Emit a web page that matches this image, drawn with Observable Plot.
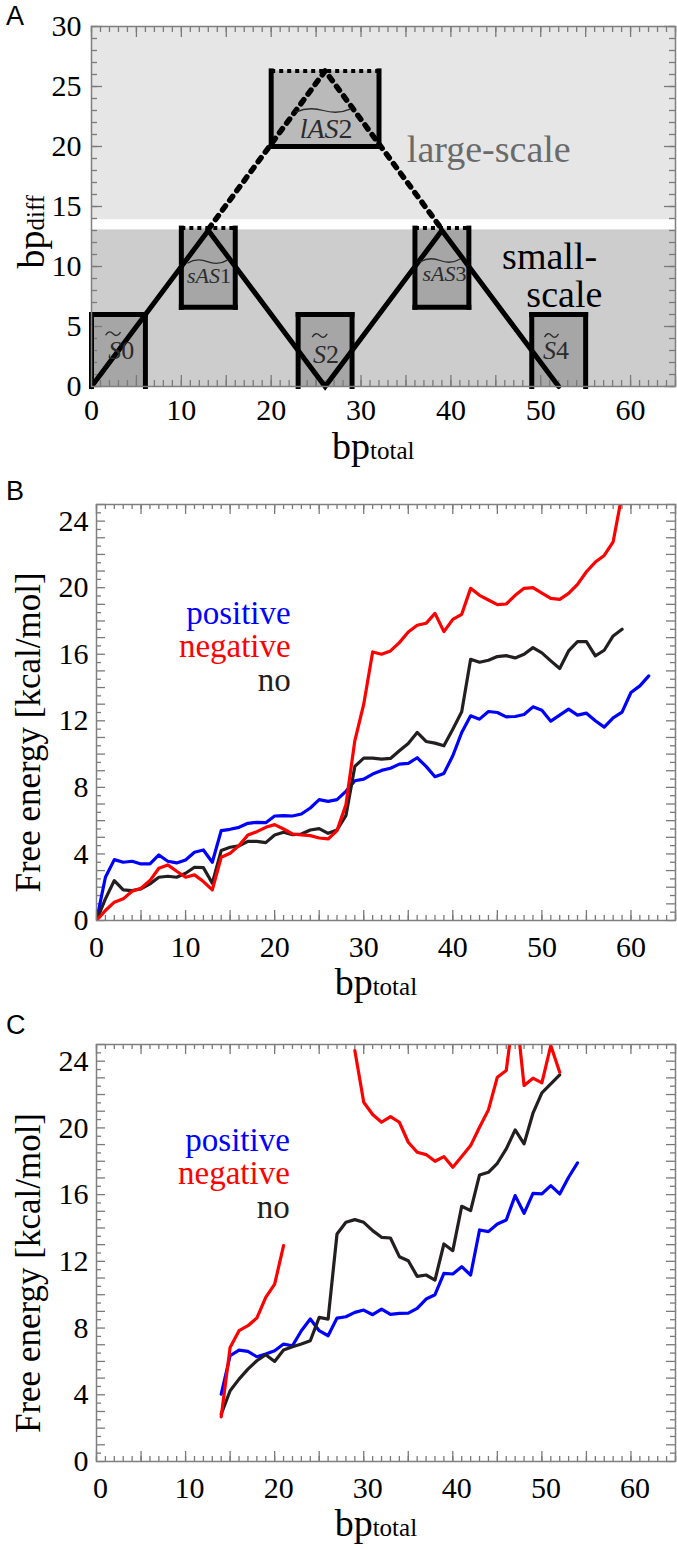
<!DOCTYPE html>
<html>
<head>
<meta charset="utf-8">
<script src="https://cdn.jsdelivr.net/npm/d3@7"></script>
<script src="https://cdn.jsdelivr.net/npm/@observablehq/plot@0.6"></script>
<style>
  body { margin: 0; background: #fff; }
  #wrap { position: relative; width: 677px; height: 1550px; overflow: hidden; background: #fff; }
  .panel { position: absolute; left: 0; }
  .letter { position: absolute; left: 6px; font-family: "Liberation Sans", Arial, sans-serif; font-size: 27px; line-height: 27px; color: #000; }
</style>
</head>
<body>
<div id="wrap">
  <div id="pA" class="panel" style="top:0px"></div>
  <div id="pB" class="panel" style="top:480px"></div>
  <div id="pC" class="panel" style="top:1020px"></div>
  <div class="letter" style="top:3px">A</div>
  <div class="letter" style="top:478px">B</div>
  <div class="letter" style="top:1012px">C</div>
</div>
<script>
// ---------------- Panel A data ----------------
const aXTicks = [0, 10, 20, 30, 40, 50, 60];
const aYTicks = [0, 5, 10, 15, 20, 25, 30];
const bandLowY = [0, 13.05];
const bandHighY = [13.9, 30];
const boxName = ["S0", "sAS1", "lAS2", "S2", "sAS3", "S4"];
const boxX1 = [0, 10, 20, 23, 36, 49];
const boxX2 = [6, 16, 32, 29, 42, 55];
const boxY1 = [0, 6.6, 20, 0, 6.6, 0];
const boxY2 = [6, 13.2, 26.3, 6, 13.2, 6];
const boxTopDotted = [false, true, true, false, true, false];
const zigX = [0, 13, 26, 39, 52];
const zigY = [0, 13, 0, 13, 0];
const dotX = [13, 26, 39];
const dotY = [13.1, 26.3, 13.1];
const boxLetters = ["S", "sAS", "lAS", "S", "sAS", "S"];
const boxLetterEm = [0.5, 1.5, 1.389, 0.5, 1.5, 0.5];   // italic advance widths of the letters, in em
const boxDigits = ["0", "1", "2", "2", "3", "4"];
const boxLabelSplit = [3.3, 14.3, 27.5, 26.1, 40.5, 51.7]; // where letters end and digit starts
const boxLabelY = [2.3, 8.6, 20.7, 2.0, 8.8, 2.3];
const boxLabelSize = [26, 22, 28, 26, 22, 26];
const tildeX = [2.4, 12.9, 25.8, 25.4, 38.8, 51.2];
const tildeY = [4.4, 10.4, 23.0, 4.25, 10.5, 4.25];
const tildeW = [15, 40, 55, 15, 40, 14];
const regionText = ["large-scale", "small-", "scale"];
const regionX = [35.1, 45.7, 48.4];
const regionY = [18.7, 9.8, 6.6];
const regionColor = ["#6a6a6a", "#000", "#000"];

// ---------------- Panels B, C data ----------------
const feXTicks = [0, 10, 20, 30, 40, 50, 60];
const feYTicks = [0, 4, 8, 12, 16, 20, 24];
const seriesName = ["positive", "negative", "no"];
const seriesColor = ["#0000ff", "#ff0000", "#231f20"];

const bBlueStart = 0;
const bBlue = [0, 2.6, 3.66, 3.5, 3.56, 3.4, 3.4, 3.94, 3.56, 3.46, 3.64, 4.1, 4.24, 3.5, 5.4, 5.48, 5.6, 5.84, 5.9, 5.88,
  6.28, 6.3, 6.28, 6.4, 6.76, 7.26, 7.16, 7.26, 7.76, 8.4, 8.5, 8.8, 9.02, 9.15, 9.4, 9.44, 9.78, 9.26, 8.64, 8.84,
  9.9, 11.3, 12.3, 12.1, 12.56, 12.5, 12.24, 12.26, 12.38, 12.84, 12.64, 11.98, 12.34, 12.7, 12.34, 12.46, 12.0, 11.62, 12.18, 12.52,
  13.7, 14.1, 14.7];
const bRedStart = 0;
const bRed = [0, 0.6, 1.1, 1.3, 1.76, 1.94, 2.4, 3.14, 3.34, 2.96, 2.6, 2.74, 2.34, 1.84, 3.8, 4.04, 4.5, 5.14, 5.34, 5.6,
  5.76, 5.5, 5.2, 5.14, 5.1, 4.96, 4.9, 5.4, 6.96, 10.8, 13.0, 16.14, 16.0, 16.2, 16.7, 17.34, 17.74, 17.86, 18.46, 17.36,
  18.1, 18.4, 19.96, 19.54, 19.26, 18.98, 19.02, 19.54, 19.96, 20.0, 19.68, 19.36, 19.3, 19.66, 20.2, 20.96, 21.54, 21.94, 22.76, 25.6];
const bBlackStart = 0;
const bBlack = [0, 1.3, 2.4, 1.84, 1.8, 1.9, 2.2, 2.6, 2.66, 2.6, 2.84, 3.2, 3.18, 2.24, 4.2, 4.4, 4.48, 4.76, 4.76, 4.68,
  5.14, 5.3, 5.16, 5.2, 5.44, 5.52, 5.24, 5.44, 6.3, 9.26, 9.76, 9.76, 9.7, 9.74, 10.2, 10.64, 11.3, 10.76, 10.66, 10.5,
  11.5, 12.54, 15.7, 15.52, 15.64, 15.86, 15.92, 15.78, 16.0, 16.4, 16.08, 15.6, 15.14, 16.2, 16.76, 16.76, 15.9, 16.24, 17.1, 17.5];

const cBlueStart = 14;
const cBlue = [4.04, 6.34, 6.68, 6.6, 6.28, 6.44, 6.64, 7.04, 6.94, 7.84, 8.54, 7.84, 7.54, 8.6, 8.68, 8.94, 9.08, 8.8, 9.14, 8.82,
  8.88, 8.9, 9.18, 9.74, 10.0, 11.28, 11.24, 11.68, 11.18, 13.88, 13.78, 14.24, 14.48, 15.94, 14.88, 16.08, 16.04, 16.54, 16.04, 17.04, 17.9];
const cRed1Start = 14;
const cRed1 = [2.68, 6.84, 7.84, 8.14, 8.6, 9.84, 10.64, 12.94];
const cRed2Start = 29;
const cRed2 = [24.64, 21.54, 20.8, 20.34, 20.68, 20.34, 19.14, 18.54, 18.4, 18.0, 18.28, 17.64, 18.28, 18.94, 20.04, 21.08,
  23.04, 23.44, 27.6, 22.54, 22.98, 22.7, 24.94, 23.34];
const cBlackStart = 14;
const cBlack = [2.84, 4.24, 4.94, 5.54, 6.04, 6.4, 6.0, 6.68, 6.88, 7.04, 7.24, 8.64, 8.54, 13.64, 14.34, 14.5, 14.34, 13.84, 13.44, 13.4,
  12.28, 12.04, 11.1, 11.18, 10.88, 13.04, 12.64, 15.3, 15.04, 17.18, 17.34, 17.88, 18.74, 19.88, 19.04, 20.88, 22.1, 22.64, 23.18];

const bLegendX = 21.8;
const bLegendY = [17.82, 15.82, 13.82];
const cLegendX = 21.7;
const cLegendY = [18.63, 16.62, 14.61];

const xLabelSplit = 31;
const aYLabelSplit = 13;
const feYLabelCenter = 11.3;

// ---------------- helpers ----------------
const FONT = "'Liberation Serif', 'Times New Roman', Times, serif";
const TICK = {stroke: "#7a7a7a", strokeWidth: 1.3};
const SVGNS = "http://www.w3.org/2000/svg";
const idx = (a) => a.map((_, i) => i);
const toRows = (vals, start) => vals.map((v, i) => ({x: start + i, y: v}));

// a wavy "tilde" accent drawn as a symbol; its width is 2r (r from the dot's radius)
const tildeSymbol = {
  draw(context, size) {
    const r = Math.sqrt(size / Math.PI), a = 2.6;
    context.moveTo(-r, a * 0.6);
    context.bezierCurveTo(-r * 0.66, -a, -r * 0.33, -a, 0, 0);
    context.bezierCurveTo(r * 0.33, a, r * 0.66, a, r, -a * 0.6);
  }
};

function tickMarks(o) {
  return [
    Plot.tickX(o.xMinor, {x: d => d, insetTop: o.ph - o.xs, ...TICK}),
    Plot.tickX(o.xMinor, {x: d => d, insetBottom: o.ph - o.xs, ...TICK}),
    Plot.tickX(o.xMajor, {x: d => d, insetTop: o.ph - o.xl, ...TICK}),
    Plot.tickX(o.xMajor, {x: d => d, insetBottom: o.ph - o.xl, ...TICK}),
    Plot.tickY(o.yMinor, {y: d => d, insetRight: o.pw - o.ys, ...TICK}),
    Plot.tickY(o.yMinor, {y: d => d, insetLeft: o.pw - o.ys, ...TICK}),
    Plot.tickY(o.yMajor, {y: d => d, insetRight: o.pw - o.yl, ...TICK}),
    Plot.tickY(o.yMajor, {y: d => d, insetLeft: o.pw - o.yl, ...TICK})
  ];
}

const baseStyle = {fontFamily: FONT, fontSize: "30px", color: "#000", background: "transparent", overflow: "visible"};

// ---------------- Panel A ----------------
(function () {
  const W = 677, H = 480, mT = 26, mB = 94, mL = 91, mR = 2;
  const ph = H - mT - mB, pw = W - mL - mR;
  const kx = pw / 65; // px per x unit
  const edges = [];
  boxName.forEach((n, i) => {
    edges.push({x1: boxX1[i], y1: boxY1[i], x2: boxX1[i], y2: boxY2[i], dotted: false});
    edges.push({x1: boxX2[i], y1: boxY1[i], x2: boxX2[i], y2: boxY2[i], dotted: false});
    if (boxY1[i] > 0) edges.push({x1: boxX1[i], y1: boxY1[i], x2: boxX2[i], y2: boxY1[i], dotted: false});
    edges.push({x1: boxX1[i], y1: boxY2[i], x2: boxX2[i], y2: boxY2[i], dotted: boxTopDotted[i]});
  });
  const bi = idx(boxName);
  const plot = Plot.plot({
    width: W, height: H, marginTop: mT, marginBottom: mB, marginLeft: mL, marginRight: mR,
    x: {domain: [0, 65]}, y: {domain: [0, 30]},
    style: baseStyle,
    marks: [
      Plot.rect([0], {y1: bandLowY[0], y2: bandLowY[1], fill: "#cdcdcd"}),
      Plot.rect([0], {y1: bandHighY[0], y2: bandHighY[1], fill: "#e6e6e6"}),
      Plot.rect(bi, {x1: i => boxX1[i], x2: i => boxX2[i], y1: i => boxY1[i], y2: i => boxY2[i], fill: "#000", fillOpacity: 0.19}),
      ...tickMarks({ph, pw, xMinor: d3.range(0, 66, 1), xMajor: d3.range(0, 66, 5), xs: 6, xl: 11,
        yMinor: d3.range(0, 31, 1), yMajor: d3.range(0, 31, 5), ys: 6, yl: 11}),
      Plot.link(edges.filter(e => !e.dotted), {x1: "x1", y1: "y1", x2: "x2", y2: "y2", stroke: "#000", strokeWidth: 5, strokeLinecap: "square"}),
      Plot.link(edges.filter(e => e.dotted), {x1: "x1", y1: "y1", x2: "x2", y2: "y2", stroke: "#000", strokeWidth: 4, strokeDasharray: "4,4"}),
      Plot.line(idx(zigX), {x: i => zigX[i], y: i => zigY[i], stroke: "#000", strokeWidth: 5, strokeLinejoin: "miter", strokeMiterlimit: 10}),
      Plot.line(idx(dotX), {x: i => dotX[i], y: i => dotY[i], stroke: "#000", strokeWidth: 5.5, strokeDasharray: "5,7"}),
      // one text per box label; letters italic, digit upright (split into tspans below)
      Plot.text(bi, {x: i => boxLabelSplit[i] - boxLetterEm[i] * boxLabelSize[i] / kx, y: i => boxLabelY[i],
        text: i => boxName[i], fontSize: i => boxLabelSize[i], textAnchor: "start", lineAnchor: "bottom", fill: "#2b2b2b"}),
      // tilde accents over the labels
      ...bi.map(i => Plot.dot([i], {x: () => tildeX[i], y: () => tildeY[i], r: tildeW[i] / 2, symbol: tildeSymbol,
        fill: "none", stroke: "#2b2b2b", strokeWidth: 1.3})),
      Plot.text(idx(regionText), {x: i => regionX[i], y: i => regionY[i], text: i => regionText[i], fill: i => regionColor[i],
        fontSize: 38, textAnchor: "start", lineAnchor: "bottom"}),
      Plot.axisX({ticks: aXTicks, tickSize: 0, tickPadding: 12, label: null, fontSize: 30}),
      Plot.axisY({ticks: aYTicks, tickSize: 0, tickPadding: 10, label: null, fontSize: 30}),
      Plot.text(["bp"], {x: [xLabelSplit], frameAnchor: "bottom", dy: 72, lineAnchor: "bottom", textAnchor: "end", fontSize: 38}),
      Plot.text(["total"], {x: [xLabelSplit], frameAnchor: "bottom", dy: 72, lineAnchor: "bottom", textAnchor: "start", fontSize: 25}),
      Plot.text(["bp"], {y: [aYLabelSplit], frameAnchor: "left", dx: -48, rotate: -90, lineAnchor: "bottom", textAnchor: "end", fontSize: 38}),
      Plot.text(["diff"], {y: [aYLabelSplit], frameAnchor: "left", dx: -48, rotate: -90, lineAnchor: "bottom", textAnchor: "start", fontSize: 25}),
      Plot.frame({stroke: "#7f7f7f", strokeWidth: 1.5})
    ]
  });
  document.getElementById("pA").appendChild(plot);
  // box labels: italic letters + upright digit inside the same text element
  Array.from(plot.querySelectorAll("text")).filter(t => boxName.includes(t.textContent)).forEach(t => {
    const i = boxName.indexOf(t.textContent);
    t.textContent = "";
    const a = document.createElementNS(SVGNS, "tspan");
    a.setAttribute("font-style", "italic");
    a.textContent = boxLetters[i];
    const b = document.createElementNS(SVGNS, "tspan");
    b.textContent = boxDigits[i];
    t.appendChild(a); t.appendChild(b);
  });
})();

// ---------------- Panels B and C ----------------
function fePanel(el, H, mB, series, legendX, legendY, tickDx) {
  const W = 677, mT = 24, mL = 96, mR = 2;
  const ph = H - mT - mB, pw = W - mL - mR;
  const plot = Plot.plot({
    width: W, height: H, marginTop: mT, marginBottom: mB, marginLeft: mL, marginRight: mR,
    x: {domain: [0, 65]}, y: {domain: [0, 25]},
    style: baseStyle,
    marks: [
      ...tickMarks({ph, pw, xMinor: d3.range(0, 66, 1), xMajor: d3.range(0, 66, 5), xs: 5, xl: 10,
        yMinor: d3.range(0.5, 25, 1), yMajor: d3.range(0, 26, 1), ys: 5, yl: 9}),
      ...series.map(s => Plot.line(s.rows, {x: "x", y: "y", stroke: s.color, strokeWidth: 3.2, clip: true})),
      Plot.text(idx(seriesName), {x: () => legendX, y: i => legendY[i], text: i => seriesName[i], fill: i => seriesColor[i],
        fontSize: 33, textAnchor: "end", lineAnchor: "bottom"}),
      Plot.axisX({ticks: feXTicks, tickSize: 0, tickPadding: 15, label: null, fontSize: 30, dx: tickDx}),
      Plot.axisY({ticks: feYTicks, tickSize: 0, tickPadding: 8, label: null, fontSize: 30}),
      Plot.text(["bp"], {x: [xLabelSplit], frameAnchor: "bottom", dy: 74, lineAnchor: "bottom", textAnchor: "end", fontSize: 38}),
      Plot.text(["total"], {x: [xLabelSplit], frameAnchor: "bottom", dy: 74, lineAnchor: "bottom", textAnchor: "start", fontSize: 25}),
      Plot.text(["Free energy [kcal/mol]"], {y: [feYLabelCenter], frameAnchor: "left", dx: -57, rotate: -90, lineAnchor: "bottom",
        textAnchor: "middle", fontSize: 35}),
      Plot.frame({stroke: "#7f7f7f", strokeWidth: 1.5})
    ]
  });
  document.getElementById(el).appendChild(plot);
}

fePanel("pB", 540, 100, [
  {rows: toRows(bBlue, bBlueStart), color: seriesColor[0]},
  {rows: toRows(bBlack, bBlackStart), color: seriesColor[2]},
  {rows: toRows(bRed, bRedStart), color: seriesColor[1]}
], bLegendX, bLegendY, 0);

fePanel("pC", 530, 89, [
  {rows: toRows(cBlue, cBlueStart), color: seriesColor[0]},
  {rows: toRows(cBlack, cBlackStart), color: seriesColor[2]},
  {rows: toRows(cRed1, cRed1Start), color: seriesColor[1]},
  {rows: toRows(cRed2, cRed2Start), color: seriesColor[1]}
], cLegendX, cLegendY, 4);
</script>
</body>
</html>
